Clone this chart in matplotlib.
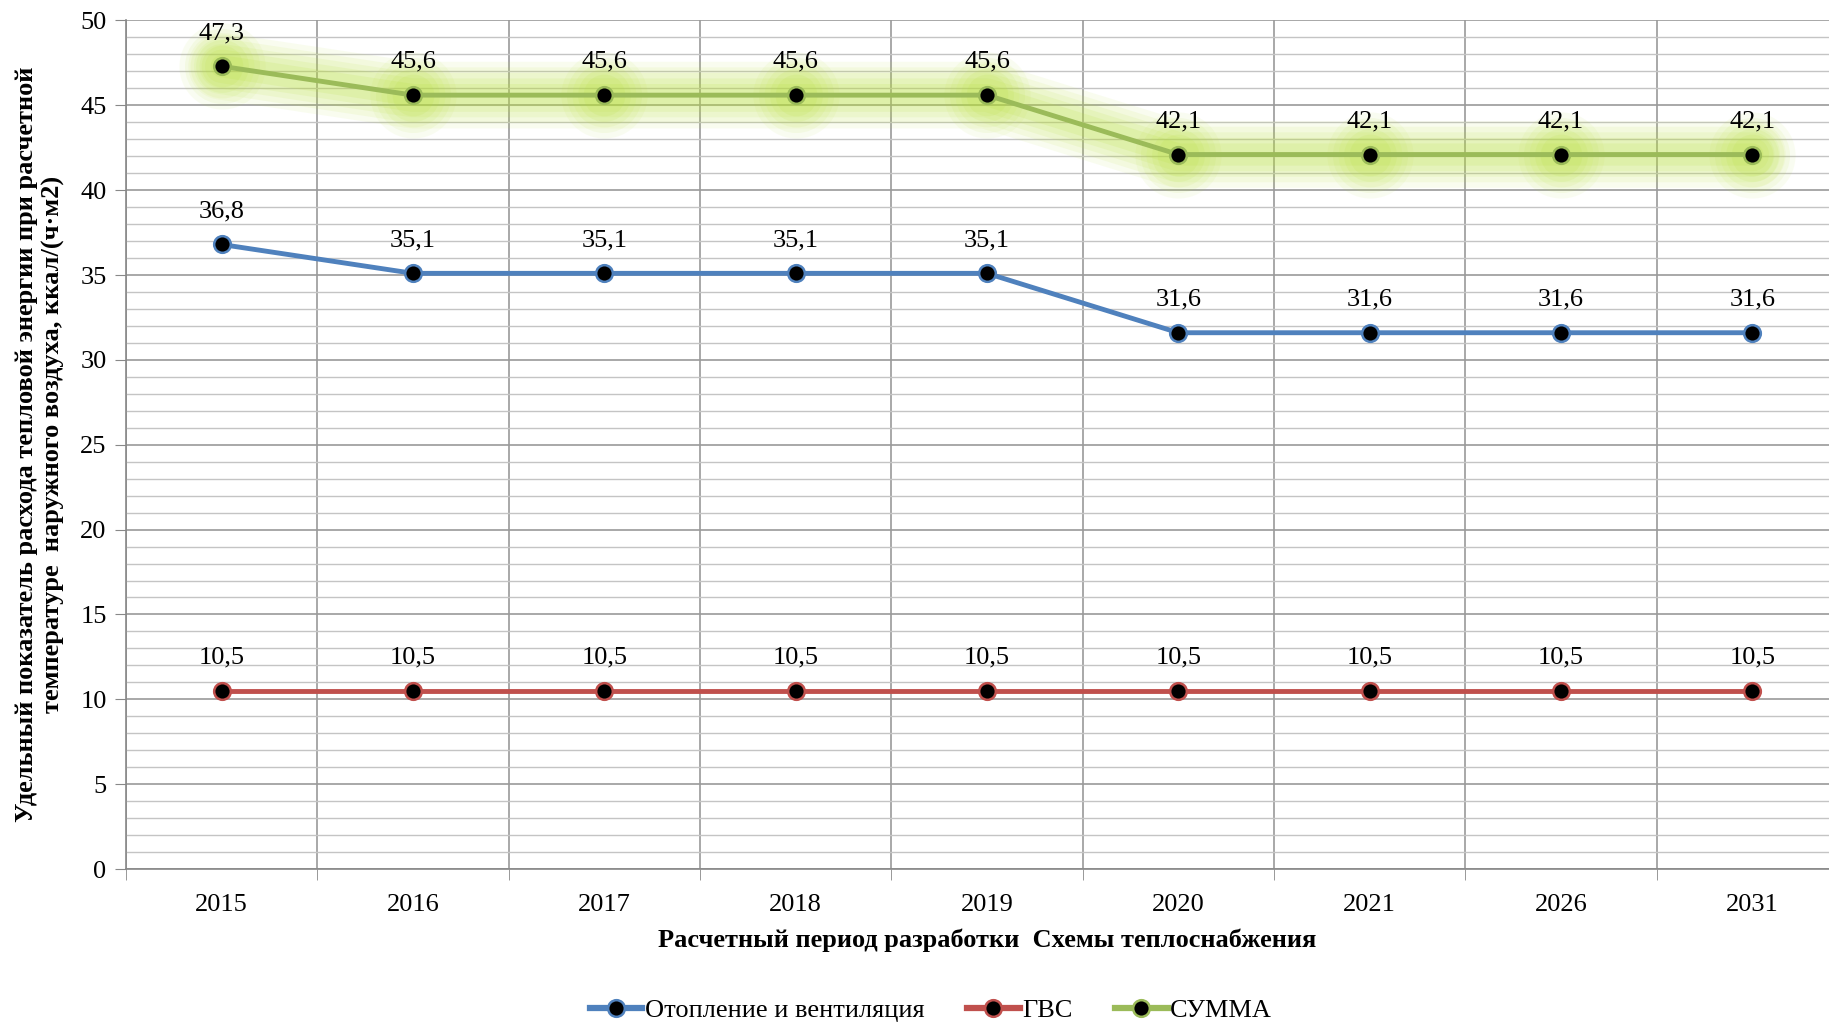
import matplotlib.pyplot as plt
from matplotlib.ticker import MultipleLocator, FixedLocator

plt.rcParams['font.family'] = ['Liberation Serif', 'DejaVu Serif']

years = ['2015', '2016', '2017', '2018', '2019', '2020', '2021', '2026', '2031']
heating = [36.8, 35.1, 35.1, 35.1, 35.1, 31.6, 31.6, 31.6, 31.6]
gvs = [10.5, 10.5, 10.5, 10.5, 10.5, 10.5, 10.5, 10.5, 10.5]
total = [47.3, 45.6, 45.6, 45.6, 45.6, 42.1, 42.1, 42.1, 42.1]

names = ['Отопление и вентиляция', 'ГВС', 'СУММА']
colors = ['#4F81BD', '#C0504D', '#9BBB59']

fig = plt.figure(figsize=(18.29, 10.23), dpi=100)
# the plot area runs a little past the right edge of the picture
ax = fig.add_axes([0.0689, 0.1505, 0.9415, 0.8295])

x = list(range(len(years)))

# glow behind the total line
for lw, a in [(48, 0.08), (40, 0.09), (32, 0.10), (24, 0.12), (16, 0.14)]:
    ax.plot(x, total, color='#b8e03c', lw=lw, alpha=a, solid_capstyle='round',
            solid_joinstyle='round', zorder=2)
    ax.plot(x, total, 'o', color='#b8e03c', ms=lw + 14, alpha=a * 0.9, mec='none', zorder=2)

for vals, c, n in zip([heating, gvs, total], colors, names):
    ax.plot(x, vals, color=c, lw=3.5, marker='o', ms=12, mfc='black', mec=c, mew=1.8,
            label=n, zorder=4)
    for xi, v in zip(x, vals):
        ax.annotate(f'{v:.1f}'.replace('.', ','), (xi, v), xytext=(0, 16),
                    textcoords='offset points', ha='center', va='bottom', fontsize=19, zorder=5)

ax.set_xlim(-0.5, len(years) - 0.5)
ax.set_ylim(0, 50)
ax.yaxis.set_major_locator(MultipleLocator(5))
ax.yaxis.set_minor_locator(MultipleLocator(1))
ax.set_xticks(x)
ax.set_xticklabels(years)
ax.xaxis.set_minor_locator(FixedLocator([i - 0.5 for i in range(len(years) + 1)]))

ax.grid(True, which='major', axis='y', color='#9a9a9a', lw=1.2)
ax.grid(True, which='minor', axis='y', color='#c4c4c4', lw=1.0)
ax.grid(True, which='minor', axis='x', color='#9a9a9a', lw=1.2)
ax.set_axisbelow(True)

ax.tick_params(axis='x', which='major', length=0, labelsize=19, pad=18)
ax.tick_params(axis='x', which='minor', length=8, color='#888888')
ax.tick_params(axis='y', which='major', length=8, color='#888888', labelsize=19, pad=6)
ax.tick_params(axis='y', which='minor', length=0)

for s in ['top', 'right']:
    ax.spines[s].set_visible(False)
for s in ['left', 'bottom']:
    ax.spines[s].set_color('#888888')
    ax.spines[s].set_linewidth(1.2)

ax.set_xlabel('Расчетный период разработки  Схемы теплоснабжения', fontsize=19,
              fontweight='bold', labelpad=9)
ax.set_ylabel('Удельный показатель расхода тепловой энергии при расчетной\n'
              'температуре  наружного воздуха, ккал/(ч·м2)', fontsize=19,
              fontweight='bold', labelpad=11, linespacing=1.2)

leg = fig.legend(loc='lower center', bbox_to_anchor=(0.509, -0.022), ncol=3, frameon=False,
                 fontsize=19, handlelength=2.0, columnspacing=1.6, handletextpad=0.1)
for h in leg.get_lines():
    h.set_linewidth(4.5)

fig.savefig('out.png', dpi=100)
